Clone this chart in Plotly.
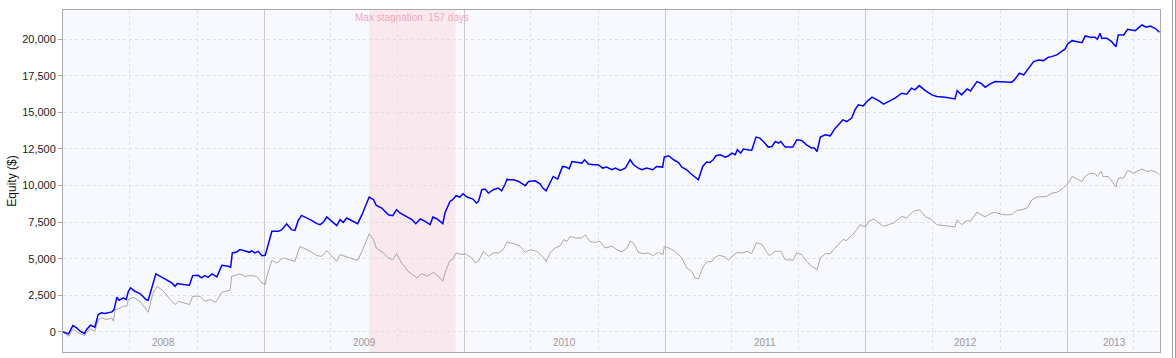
import pandas as pd
import plotly.graph_objects as go

START = "2008-01-01"

# Strategy equity (blue): day offset from START, equity in $
strategy_days = [0, 10, 18, 25, 31, 39, 43, 50, 58, 64, 70, 76, 89, 93, 95, 98, 102, 110, 115, 119,
                 123, 131, 140, 151, 155, 163, 169, 177, 189, 198, 204, 208, 219, 230, 236, 246, 252, 258, 264, 271,
                 280, 289, 301, 305, 308, 316, 322, 331, 340, 343, 349, 355, 362, 368, 380, 392, 398, 407, 416, 422,
                 428, 434, 444, 453, 462, 468, 474, 480, 489, 498, 504, 510, 516, 528, 536, 544, 551, 557, 565, 570,
                 580, 592, 600, 607, 613, 625, 635, 642, 650, 659, 668, 673, 680, 691, 695, 704, 709, 715, 722, 728,
                 735, 746, 752, 756, 762, 768, 774, 783, 792, 798, 804, 808, 810, 820, 829, 841, 847, 859, 868, 873,
                 879, 886, 892, 900, 903, 909, 915, 921, 926, 935, 944, 949, 956, 965, 974, 982, 989, 999, 1005, 1014,
                 1023, 1032, 1038, 1047, 1053, 1062, 1073, 1080, 1091, 1094, 1102, 1111, 1120, 1126, 1135, 1141, 1147, 1156, 1164, 1171,
                 1177, 1183, 1188, 1196, 1205, 1211, 1217, 1223, 1227, 1233, 1238, 1245, 1253, 1261, 1268, 1276, 1283, 1290, 1296, 1302,
                 1306, 1314, 1328, 1335, 1344, 1353, 1362, 1367, 1372, 1378, 1387, 1396, 1405, 1411, 1419, 1426, 1435, 1441, 1447, 1456,
                 1463, 1472, 1484, 1493, 1502, 1508, 1514, 1526, 1535, 1544, 1550, 1558, 1569, 1581, 1590, 1605, 1623, 1627, 1635, 1645,
                 1651, 1663, 1670, 1678, 1687, 1696, 1711, 1726, 1731, 1740, 1748, 1757, 1766, 1775, 1784, 1793, 1799, 1808, 1817, 1823,
                 1828, 1836, 1854, 1860, 1869, 1878, 1882, 1887, 1890, 1899, 1908, 1916, 1920, 1930, 1937, 1951, 1963, 1971, 1978, 1987,
                 1995]
strategy_equity = [0, -140, 430, 273, 41, -116, 157, 451, 314, 1181, 1297, 1249, 1365, 1522, 1864, 2362, 2157, 2321, 2205, 2772,
                   3004, 2772, 2615, 2205, 2157, 3229, 3959, 3795, 3570, 3345, 3113, 3297, 3229, 3181, 3843, 3864, 3686, 3843, 3727, 3959,
                   3755, 4546, 4478, 4410, 5393, 5461, 5618, 5502, 5434, 5550, 5393, 5502, 5208, 5229, 6867, 6867, 6983, 7372, 6983, 6935,
                   7618, 7959, 7782, 7598, 7393, 7324, 7509, 7850, 7550, 7256, 7666, 7482, 7782, 7550, 7393, 8007, 8690, 9216, 9031, 8642,
                   8464, 8007, 7939, 8348, 8123, 7850, 7666, 7393, 7714, 7550, 7324, 7850, 7734, 7393, 8123, 8915, 9031, 9304, 9215, 9441,
                   9215, 9079, 8806, 8915, 9714, 9762, 9488, 9714, 9830, 9645, 10055, 10444, 10396, 10396, 10280, 9987, 10280, 10328, 10123, 9830,
                   9645, 10171, 10622, 10444, 10737, 11304, 11263, 11147, 11645, 11577, 11536, 11761, 11468, 11420, 11420, 11195, 11263, 11079, 11195, 11031,
                   11195, 11761, 11420, 11195, 11079, 11195, 11079, 11304, 11263, 11946, 12034, 11761, 11577, 11263, 11079, 10853, 10669, 10396, 11304, 11605,
                   11577, 11761, 12034, 12103, 11946, 12034, 12219, 12103, 12444, 12219, 12492, 12444, 12396, 13311, 13243, 12942, 12628, 12669, 13011, 12901,
                   13011, 12628, 12628, 13127, 13079, 12785, 12560, 12560, 12328, 13311, 13468, 13400, 13925, 14150, 14492, 14376, 14608, 15174, 15516, 15447,
                   15741, 16041, 15809, 15564, 15741, 15857, 15973, 16314, 16246, 16656, 16540, 16833, 16492, 16198, 16082, 16041, 15925, 16492, 16198, 16608,
                   16471, 17106, 16997, 16724, 16949, 17106, 17065, 17065, 17222, 17680, 17563, 18021, 18471, 18587, 18540, 18772, 18813, 18929, 19154, 19318,
                   19680, 19905, 19768, 20226, 20137, 20137, 20000, 20410, 20069, 20069, 19837, 19495, 20294, 20294, 20683, 20587, 20976, 20819, 20908, 20751,
                   20478]

# Benchmark equity (grey)
bench_days = [0, 10, 18, 28, 39, 49, 58, 64, 70, 80, 89, 92, 95, 101, 110, 116, 119, 128, 140, 151,
              155, 163, 171, 183, 195, 204, 210, 230, 236, 249, 258, 268, 278, 289, 304, 307, 322, 331, 343, 352,
              362, 368, 371, 380, 389, 401, 413, 422, 431, 440, 450, 462, 471, 480, 489, 498, 504, 513, 525, 536,
              544, 551, 557, 565, 570, 583, 592, 600, 607, 616, 628, 644, 653, 662, 674, 683, 691, 695, 704, 710,
              715, 726, 732, 744, 750, 756, 765, 774, 783, 792, 801, 808, 820, 832, 841, 850, 862, 873, 879, 886,
              895, 905, 911, 917, 923, 932, 944, 950, 959, 968, 977, 986, 999, 1008, 1017, 1026, 1032, 1038, 1047, 1056,
              1065, 1074, 1083, 1092, 1094, 1102, 1114, 1126, 1135, 1144, 1150, 1156, 1164, 1171, 1181, 1187, 1194, 1205, 1211, 1217,
              1227, 1235, 1245, 1253, 1262, 1272, 1278, 1285, 1296, 1306, 1314, 1328, 1335, 1344, 1353, 1362, 1372, 1378, 1387, 1396,
              1402, 1411, 1419, 1426, 1435, 1444, 1450, 1460, 1466, 1475, 1484, 1493, 1502, 1511, 1526, 1535, 1547, 1558, 1569, 1581,
              1590, 1605, 1623, 1627, 1635, 1645, 1651, 1663, 1678, 1687, 1696, 1711, 1726, 1736, 1745, 1754, 1763, 1772, 1790, 1799,
              1808, 1820, 1827, 1836, 1854, 1860, 1869, 1878, 1882, 1889, 1892, 1902, 1908, 1916, 1920, 1930, 1937, 1948, 1963, 1972,
              1981, 1990, 1995]
bench_equity = [0, -300, 157, -68, -252, 225, 41, 840, 956, 840, 956, 724, 1522, 1570, 1748, 1748, 2205, 2362, 2089, 1522,
                1338, 2546, 3113, 2772, 2205, 1864, 2089, 1864, 2430, 2430, 2089, 2205, 2021, 2704, 2840, 3795, 3959, 3795, 3843, 3795,
                3345, 3229, 3795, 4887, 4710, 5051, 4935, 4819, 5843, 5686, 5502, 5208, 5161, 5550, 5208, 4819, 5277, 5161, 5051, 4888,
                5502, 6185, 6690, 6301, 5734, 5393, 5051, 4935, 5345, 4710, 4137, 3686, 3980, 3795, 4068, 3795, 3454, 4027, 4867, 4983,
                5393, 5277, 5345, 5051, 4710, 4819, 5502, 5161, 5393, 5393, 5618, 6144, 6028, 5843, 5434, 5618, 5502, 5120, 4819, 5393,
                5734, 5891, 6301, 6185, 6526, 6417, 6417, 6642, 6185, 6116, 6185, 5734, 5843, 5618, 5461, 5734, 6185, 6076, 5434, 5345,
                5393, 5208, 5434, 5277, 5843, 5734, 5502, 5051, 4369, 4137, 3686, 3618, 4369, 4778, 4819, 5120, 5229, 5120, 4888, 5161,
                5434, 5393, 5502, 5345, 6116, 5959, 5618, 5208, 5502, 5502, 4935, 4887, 5393, 5277, 4819, 4478, 4253, 5051, 5345, 5345,
                5618, 5959, 6301, 6253, 6574, 6983, 7324, 7167, 7550, 7713, 7441, 7208, 7324, 7441, 7891, 7782, 8232, 8348, 7891, 7666,
                7324, 7256, 7167, 7666, 7324, 7618, 7550, 8191, 7850, 8075, 8164, 8007, 8007, 8301, 8348, 8464, 9031, 9215, 9256, 9488,
                9529, 9830, 10055, 10622, 10280, 10622, 10853, 10806, 10622, 10963, 10622, 10622, 10280, 9898, 10513, 10513, 11031, 10853, 11127, 10963,
                11031, 10894, 10737]

year_labels = ["2008", "2009", "2010", "2011", "2012", "2013"]
year_label_dates = ["2008-07-01", "2009-07-02", "2010-07-02", "2011-07-02", "2012-07-01", "2013-03-28"]
year_starts = ["2009-01-01", "2010-01-01", "2011-01-01", "2012-01-01", "2013-01-01"]
minor_grid = ["2008-05-01", "2008-09-01", "2009-05-01", "2009-09-01", "2010-05-01", "2010-09-01",
              "2011-05-01", "2011-09-01", "2012-05-01", "2012-09-01", "2013-05-01"]
y_ticks = [0, 2500, 5000, 7500, 10000, 12500, 15000, 17500, 20000]

stagnation_start_day = 557
stagnation_days = 157

start = pd.Timestamp(START)
s_dates = start + pd.to_timedelta(strategy_days, unit="D")
b_dates = start + pd.to_timedelta(bench_days, unit="D")
stag_x0 = start + pd.Timedelta(days=stagnation_start_day)
stag_x1 = stag_x0 + pd.Timedelta(days=stagnation_days)
stag_mid = stag_x0 + pd.Timedelta(days=stagnation_days / 2)

fig = go.Figure()
fig.add_trace(go.Scatter(x=b_dates, y=bench_equity, mode="lines",
                         line=dict(color="#A8A8A8", width=1), showlegend=False))
fig.add_trace(go.Scatter(x=s_dates, y=strategy_equity, mode="lines",
                         line=dict(color="#0000FF", width=1.5), showlegend=False))

fig.add_shape(type="rect", xref="x", yref="paper", x0=stag_x0, x1=stag_x1, y0=0, y1=1,
              fillcolor="rgba(255,182,193,0.25)", line=dict(width=0), layer="below")
fig.add_annotation(x=stag_mid, y=0.977, xref="x", yref="paper", yanchor="middle",
                   text=f"Max stagnation: {stagnation_days} days", showarrow=False,
                   font=dict(family="Liberation Sans, Arial", size=10, color="#F4A8B6"))

for lab, d in zip(year_labels, year_label_dates):
    fig.add_annotation(x=d, y=0.028, xref="x", yref="paper", yanchor="middle",
                       text=lab, showarrow=False,
                       font=dict(family="Liberation Sans, Arial", size=10, color="#999999"))

# outer frame lines at the right edge of the canvas
for px in (1172.5, 1175.5):
    xp = (px - 63) / (1160 - 63)
    fig.add_shape(type="line", xref="paper", yref="paper", x0=xp, x1=xp, y0=-0.02, y1=1.03,
                  line=dict(color="#A0A0A0", width=1))

fig.update_layout(
    width=1176, height=358,
    margin=dict(l=63, r=16, t=10, b=6),
    paper_bgcolor="white",
    plot_bgcolor="#F8F8FF",
    font=dict(family="Liberation Sans, Arial", size=11, color="#222222"),
    xaxis=dict(
        type="date", range=["2008-01-01", "2013-06-19"],
        tickmode="array", tickvals=year_starts, showticklabels=False, ticks="",
        showgrid=True, gridcolor="#CACACE", gridwidth=1,
        minor=dict(tickmode="array", tickvals=minor_grid, showgrid=True,
                   gridcolor="#E0E0E8", griddash="3px,3px", gridwidth=1, ticks=""),
        showline=True, linecolor="#A8A8A8", linewidth=1, mirror=True, zeroline=False,
    ),
    yaxis=dict(
        range=[-1379, 22000], tickmode="array", tickvals=y_ticks, tickformat=",",
        showgrid=True, gridcolor="#E0E0E8", griddash="3px,3px", gridwidth=1,
        ticks="outside", ticklen=4, tickcolor="#A8A8A8",
        tickfont=dict(size=11, color="#222222"),
        title=dict(text="Equity ($)", font=dict(size=12, color="#111111"), standoff=2),
        showline=True, linecolor="#A8A8A8", linewidth=1, mirror=True, zeroline=False,
    ),
)

fig.write_html("out.html", config={"displayModeBar": False},
               post_script="document.body.style.margin='0px';document.body.style.overflow='hidden';")
